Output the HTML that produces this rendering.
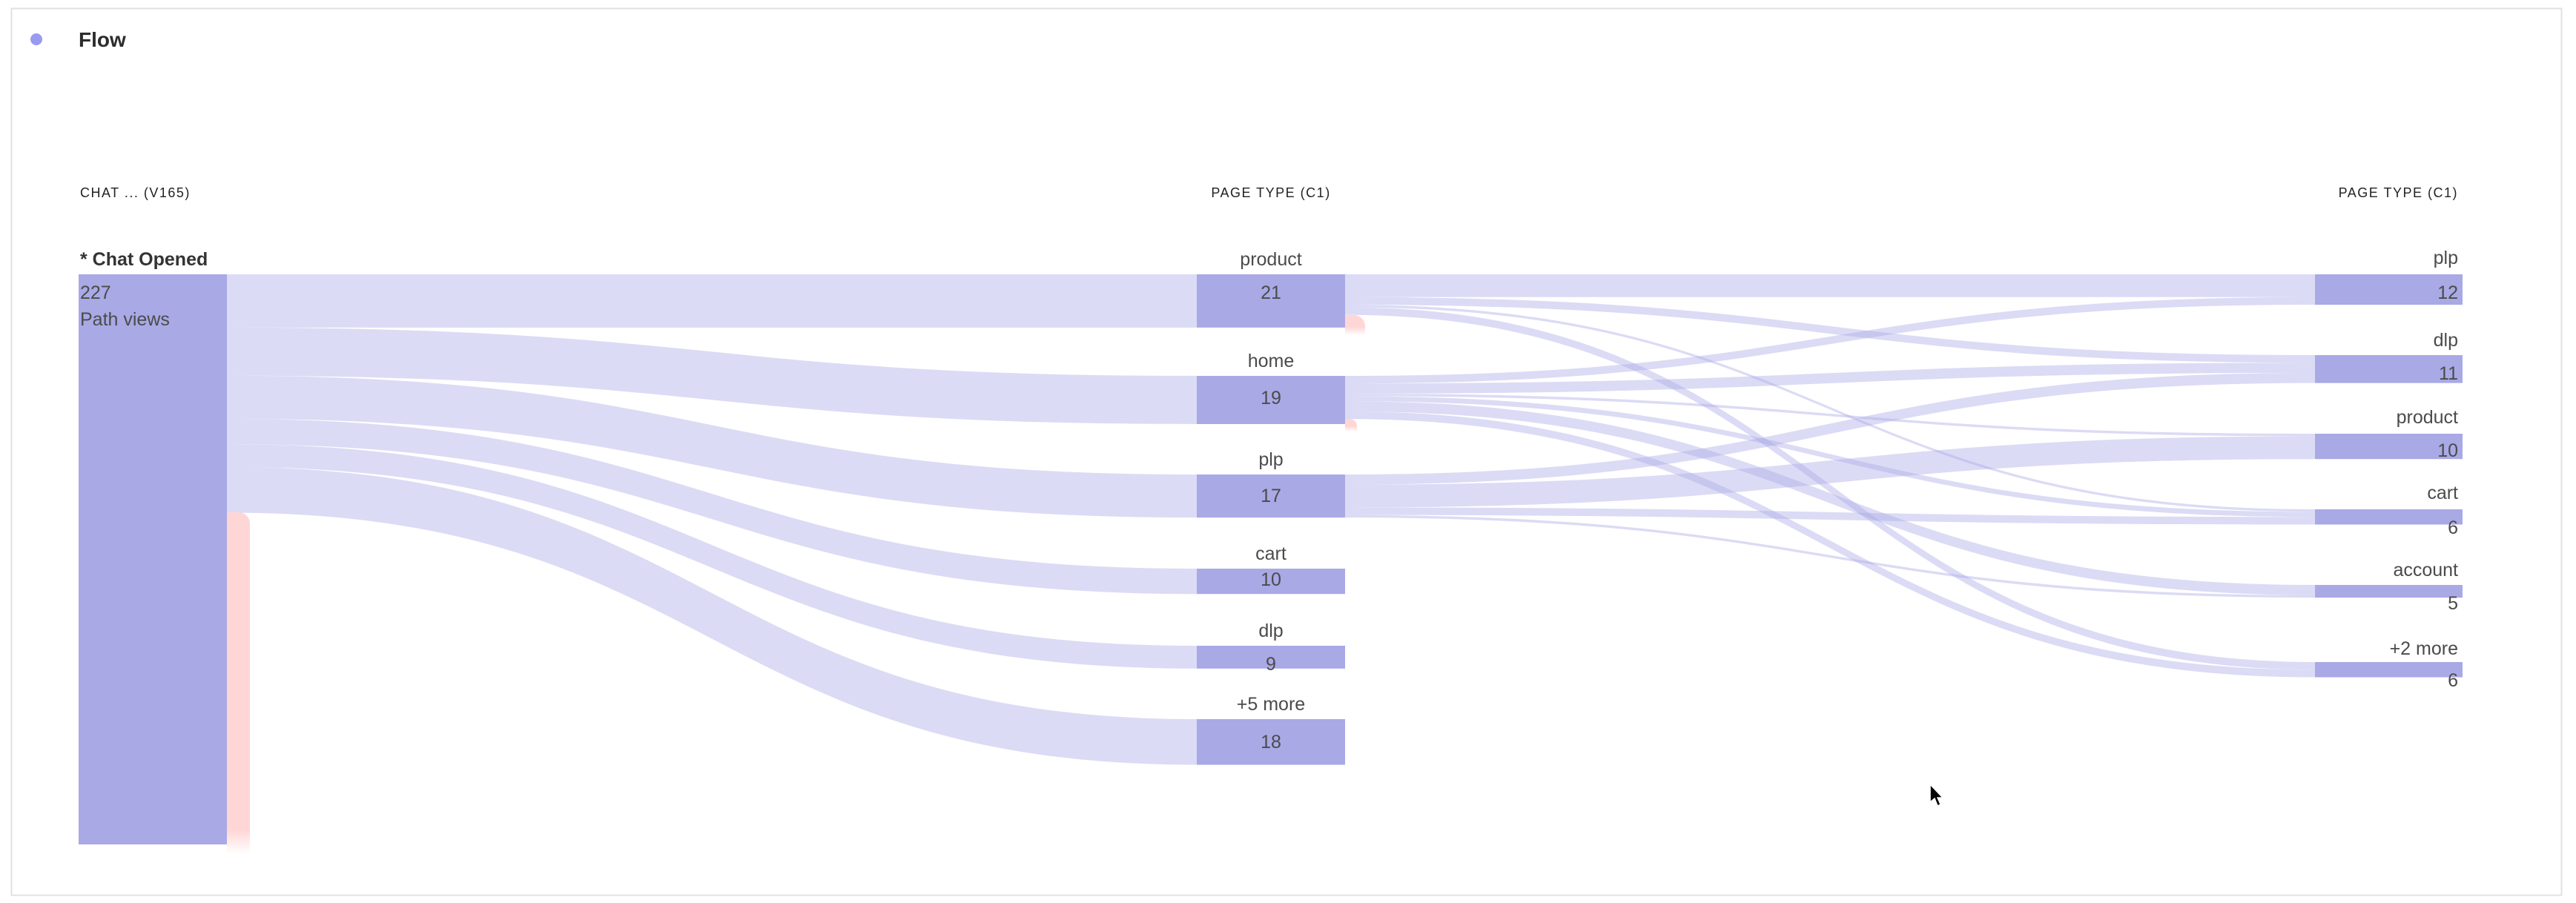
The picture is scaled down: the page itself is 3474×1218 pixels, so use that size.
<!DOCTYPE html>
<html><head><meta charset="utf-8">
<style>
html,body{margin:0;padding:0;background:#fff;width:3474px;height:1218px;overflow:hidden}
svg{display:block}
text{font-family:"Liberation Sans",sans-serif;fill:#4b4b4b}
.h{font-size:18px;letter-spacing:1.5px;fill:#222}
.l{font-size:25px}
</style></head><body>
<svg id="s" width="3474" height="1218" xmlns="http://www.w3.org/2000/svg">
<defs>
<linearGradient id="pf" x1="0" y1="0" x2="0" y2="1">
<stop offset="0" stop-color="#ffd6d6"/><stop offset="0.93" stop-color="#ffd6d6"/><stop offset="1" stop-color="#ffd6d6" stop-opacity="0"/></linearGradient>
<linearGradient id="ps" x1="0" y1="0" x2="0" y2="1">
<stop offset="0" stop-color="#ffd6d6"/><stop offset="0.6" stop-color="#ffd6d6"/><stop offset="1" stop-color="#ffd6d6" stop-opacity="0"/></linearGradient>
</defs>
<rect x="15.5" y="11.5" width="3439" height="1196" fill="none" stroke="#e1e1e1" stroke-width="2"/>
<circle cx="49" cy="53" r="8" fill="#9a9af0"/>
<text x="106" y="63" style="font-size:28px;font-weight:bold;fill:#2c2c2c">Flow</text>
<text class="h" x="108" y="266">CHAT ... (V165)</text>
<text class="h" x="1714" y="266" text-anchor="middle">PAGE TYPE (C1)</text>
<text class="h" x="3315" y="266" text-anchor="end">PAGE TYPE (C1)</text>
<g id="links"></g>
<rect x="106" y="370" width="200" height="769" fill="#a9a9e6"/>
<path d="M306 691 H322 A15 15 0 0 1 337 706 V1152 H306 Z" fill="url(#pf)"/>
<path d="M1814 425 H1826 A15 15 0 0 1 1841 440 V452 H1814 Z" fill="url(#ps)"/>
<path d="M1814 565 H1820 A10 10 0 0 1 1830 575 V582 H1814 Z" fill="url(#ps)"/>
<g id="nodes"></g>
<text x="108" y="358" style="font-size:25px;font-weight:bold;fill:#333">* Chat Opened</text>
<text class="l" x="108" y="403">227</text>
<text class="l" x="108" y="439">Path views</text>
<polygon points="2603,1058 2603,1082 2609,1077 2613,1087 2617,1085 2613,1076 2620,1076" fill="#000" stroke="#fff" stroke-width="1.5"/>
</svg>
<script>
var U=3.42, NS="http://www.w3.org/2000/svg";
var links=document.getElementById('links'), nodes=document.getElementById('nodes');
function band(x0,y0,x1,y1,h){var xm=(x0+x1)/2;
 var p=document.createElementNS(NS,'path');
 p.setAttribute('d','M'+x0+' '+y0+' C'+xm+' '+y0+','+xm+' '+y1+','+x1+' '+y1+' L'+x1+' '+(y1+h)+' C'+xm+' '+(y1+h)+','+xm+' '+(y0+h)+','+x0+' '+(y0+h)+' Z');
 p.setAttribute('fill','#a9a9e6');p.setAttribute('fill-opacity','0.42');links.appendChild(p);}
function txt(x,y,s,anch){var t=document.createElementNS(NS,'text');t.setAttribute('x',x);t.setAttribute('y',y);t.setAttribute('class','l');if(anch)t.setAttribute('text-anchor',anch);t.textContent=s;nodes.appendChild(t);}
var mid=[["product",21,370,358,403],["home",19,507,495,545],["plp",17,640,628,677],["cart",10,767,755,790],["dlp",9,871,859,904],["+5 more",18,970,958,1009]];
var right=[["plp",12,370,356,403],["dlp",11,479,467,512],["product",10,585,571,616],["cart",6,687,673,720],["account",5,789,777,822],["+2 more",6,893,883,926]];
var ly=370;
mid.forEach(function(m){var h=m[1]*U;band(306,ly,1614,m[2],h);ly+=h;});
mid.forEach(function(m){var r=document.createElementNS(NS,'rect');r.setAttribute('x',1614);r.setAttribute('y',m[2]);r.setAttribute('width',200);r.setAttribute('height',m[1]*U);r.setAttribute('fill','#a9a9e6');nodes.appendChild(r);txt(1714,m[3],m[0],'middle');txt(1714,m[4],String(m[1]),'middle');});
var fl=[[0,0,9],[0,1,3],[0,3,1],[0,5,3],[1,0,3],[1,1,4],[1,2,1],[1,3,2],[1,4,4],[1,5,3],[2,1,4],[2,2,9],[2,3,3],[2,4,1]];
var so=[370,507,640],to=right.map(function(r){return r[2];});
fl.forEach(function(f){var h=f[2]*U;band(1814,so[f[0]],3122,to[f[1]],h);so[f[0]]+=h;to[f[1]]+=h;});
right.forEach(function(m){var r=document.createElementNS(NS,'rect');r.setAttribute('x',3122);r.setAttribute('y',m[2]);r.setAttribute('width',199);r.setAttribute('height',m[1]*U);r.setAttribute('fill','#a9a9e6');nodes.appendChild(r);txt(3315,m[3],m[0],'end');txt(3315,m[4],String(m[1]),'end');});
</script>
</body></html>
